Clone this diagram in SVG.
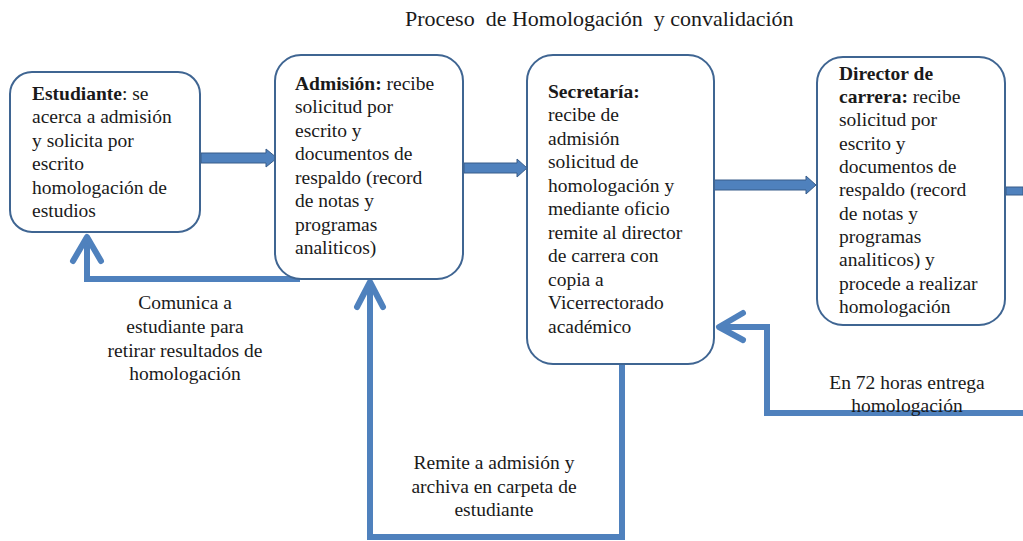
<svg xmlns="http://www.w3.org/2000/svg" width="1023" height="541" viewBox="0 0 1023 541">
<style>
.box{fill:#fff;stroke:#3F6592;stroke-width:2}
.t{font-family:"Liberation Serif","Times New Roman",serif;font-size:19.5px;fill:#1a1a1a}
.b{font-weight:bold}
.c{text-anchor:middle}
.ln{fill:none;stroke:#4F81BD;stroke-width:6;stroke-linejoin:miter}
.hd{fill:none;stroke:#4F81BD;stroke-width:6;stroke-linecap:round;stroke-linejoin:round}
.blk{fill:#4F81BD;stroke:#385D8A;stroke-width:1}
</style>
<rect width="1023" height="541" fill="#fff"/>
<text class="t" x="405" y="26" xml:space="preserve" style="font-size:22px">Proceso  de Homologación  y convalidación</text>

<g id="connectors">
<polygon class="blk" points="201,153 266,153 266,149 277,158 266,167 266,163 201,163"/>
<polygon class="blk" points="464,163 517,163 517,159 527,168 517,177 517,173 464,173"/>
<polygon class="blk" points="714,180 806,180 806,176 816,185 806,194 806,190 714,190"/>
<polygon class="blk" points="1006,187 1023,187 1023,195 1006,195"/>
<polyline class="ln" points="300,279 87,279 87,240"/>
<polyline class="hd" points="73,261 87,237 101,261"/>
<polyline class="ln" points="622,364 622,537 370,537 370,285"/>
<polyline class="hd" points="357,307 370,282 383,307"/>
<polyline class="ln" points="1023,413 767,413 767,327 722,327"/>
<polyline class="hd" points="743,313 719,327 743,340"/>
</g>

<g id="estudiante">
<rect class="box" x="10" y="72" width="190" height="160" rx="22"/>
<text class="t"><tspan x="32" y="100"><tspan class="b">Estudiante</tspan>: se</tspan><tspan x="32" y="123">acerca a admisión</tspan><tspan x="32" y="147">y solicita  por</tspan><tspan x="32" y="170">escrito</tspan><tspan x="32" y="194">homologación  de</tspan><tspan x="32" y="217">estudios</tspan></text>
</g>

<g id="admision">
<rect class="box" x="275" y="55" width="188" height="224" rx="26"/>
<text class="t"><tspan x="295" y="90"><tspan class="b">Admisión:</tspan> recibe</tspan><tspan x="295" y="113">solicitud por</tspan><tspan x="295" y="137">escrito y</tspan><tspan x="295" y="160">documentos de</tspan><tspan x="295" y="184">respaldo (record</tspan><tspan x="295" y="207">de notas y</tspan><tspan x="295" y="231">programas</tspan><tspan x="295" y="254">analiticos)</tspan></text>
</g>

<g id="secretaria">
<rect class="box" x="527" y="55" width="187" height="309" rx="26"/>
<text class="t"><tspan x="548" y="98" class="b">Secretaría:</tspan><tspan x="548" y="121">recibe de</tspan><tspan x="548" y="145">admisión</tspan><tspan x="548" y="168">solicitud de</tspan><tspan x="548" y="192">homologación y</tspan><tspan x="548" y="215">mediante oficio</tspan><tspan x="548" y="239">remite al director</tspan><tspan x="548" y="262">de carrera con</tspan><tspan x="548" y="286">copia a</tspan><tspan x="548" y="309">Vicerrectorado</tspan><tspan x="548" y="333">académico</tspan></text>
</g>

<g id="director">
<rect class="box" x="817" y="57" width="188" height="268" rx="26"/>
<text class="t"><tspan x="839" y="80" class="b">Director de</tspan><tspan x="839" y="103"><tspan class="b">carrera:</tspan> recibe</tspan><tspan x="839" y="126">solicitud por</tspan><tspan x="839" y="150">escrito y</tspan><tspan x="839" y="173">documentos de</tspan><tspan x="839" y="196">respaldo (record</tspan><tspan x="839" y="220">de notas y</tspan><tspan x="839" y="243">programas</tspan><tspan x="839" y="266">analiticos) y</tspan><tspan x="839" y="290">procede a realizar</tspan><tspan x="839" y="313">homologación</tspan></text>
</g>

<g id="labels">
<text class="t c"><tspan x="185" y="309">Comunica a</tspan><tspan x="185" y="333">estudiante para</tspan><tspan x="185" y="357">retirar resultados de</tspan><tspan x="185" y="380">homologación</tspan></text>
<text class="t c"><tspan x="494" y="469">Remite a admisión y</tspan><tspan x="494" y="493">archiva en carpeta de</tspan><tspan x="494" y="516">estudiante</tspan></text>
<text class="t c"><tspan x="907" y="389">En 72 horas entrega</tspan><tspan x="907" y="412">homologación</tspan></text>
</g>
</svg>
